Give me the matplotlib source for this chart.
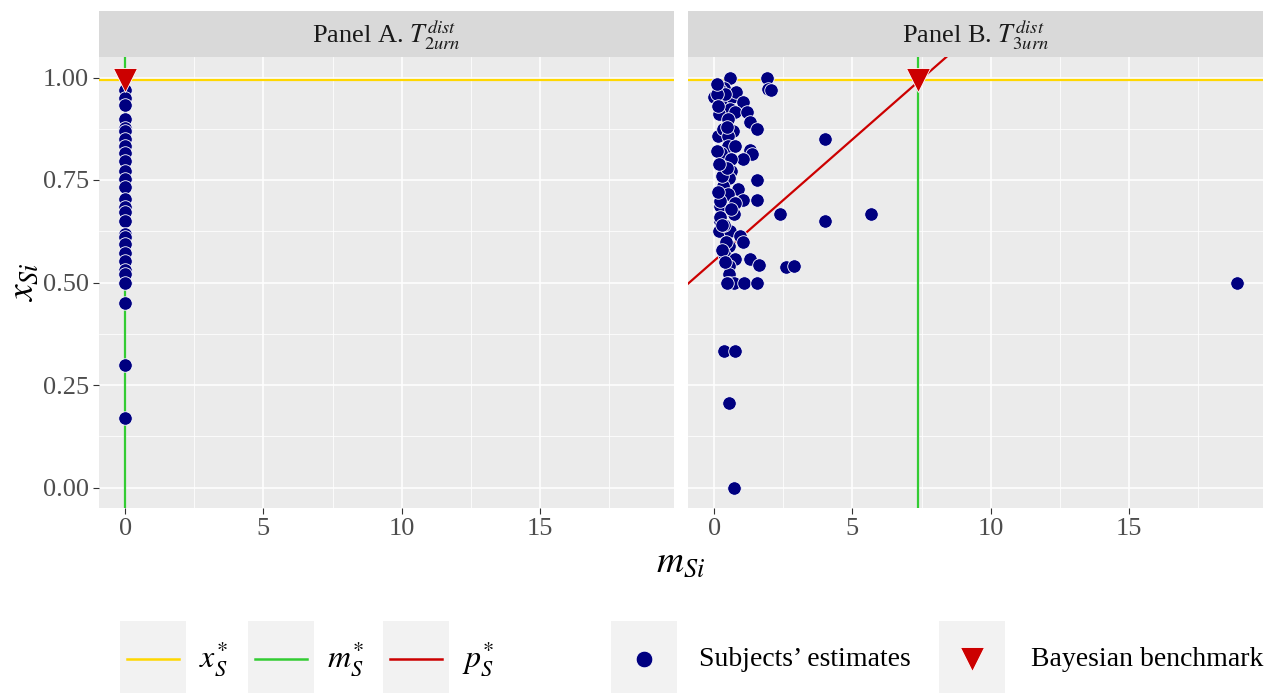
import matplotlib

matplotlib.use("Agg")
import matplotlib.pyplot as plt
from matplotlib.patches import Rectangle
from matplotlib.lines import Line2D

plt.rcParams["font.family"] = ["Liberation Serif", "DejaVu Serif"]
plt.rcParams["mathtext.fontset"] = "stix"

# data
panel_a_m = [0.0] * 27
panel_a_x = [0.97, 0.95, 0.932, 0.899, 0.878, 0.870, 0.850, 0.834, 0.817, 0.797,
             0.773, 0.752, 0.732, 0.703, 0.683, 0.671, 0.650, 0.619, 0.610, 0.593,
             0.573, 0.553, 0.530, 0.520, 0.500, 0.451, 0.300]
panel_a_m.append(0.0)
panel_a_x.append(0.170)

panel_b_m = [0.59, 1.91, 1.96, 2.07, 0.13, 0.35, 0.01, 0.25, 0.64, 0.80,
             1.04, 0.59, 0.74, 1.18, 0.19, 0.50, 1.28, 1.56, 0.13, 0.31,
             0.68, 0.50, 4.02, 0.50, 0.74, 0.25, 1.28, 1.38, 1.04, 0.62,
             0.37, 0.62, 0.55, 1.56, 0.31, 0.88, 0.50, 1.04, 1.56, 0.74,
             0.23, 2.37, 4.02, 0.71, 0.23, 0.19, 0.59, 0.92, 1.04, 0.53,
             0.37, 0.74, 1.28, 1.62, 0.55, 2.61, 2.89, 0.55, 0.55, 0.71,
             1.08, 1.56, 5.66, 18.9, 0.37, 0.74, 0.53, 0.71, 0.22, 0.40,
             0.10, 0.45, 0.30, 0.45, 0.20, 0.35, 0.60, 0.42, 0.28, 0.48,
             0.12, 0.15, 0.10, 0.18, 0.14, 0.20, 0.30, 0.40]
panel_b_x = [1.00, 1.00, 0.972, 0.970, 0.98, 0.975, 0.952, 0.94, 0.953, 0.964,
             0.94, 0.923, 0.915, 0.915, 0.911, 0.899, 0.891, 0.874, 0.858, 0.874,
             0.870, 0.858, 0.850, 0.834, 0.834, 0.817, 0.822, 0.813, 0.801, 0.801,
             0.781, 0.773, 0.755, 0.751, 0.736, 0.729, 0.716, 0.701, 0.701, 0.695,
             0.687, 0.667, 0.650, 0.667, 0.650, 0.626, 0.626, 0.614, 0.600, 0.589,
             0.569, 0.557, 0.557, 0.543, 0.540, 0.538, 0.540, 0.520, 0.500, 0.500,
             0.500, 0.500, 0.667, 0.500, 0.333, 0.333, 0.206, 0.0, 0.97, 0.96,
             0.96, 0.88, 0.76, 0.78, 0.70, 0.64, 0.68, 0.60, 0.58, 0.50,
             0.985, 0.93, 0.82, 0.79, 0.72, 0.66, 0.64, 0.55]

x_star = 0.995
m_star = [0.0, 7.38]
p_star_intercept = 0.553
p_star_slope = 0.0592
bench_x = 0.993

strip_labels = [r"Panel A. $T_{2urn}^{dist}$", r"Panel B. $T_{3urn}^{dist}$"]
x_ticks = [0, 5, 10, 15]
y_ticks = [0.0, 0.25, 0.50, 0.75, 1.00]

NAVY = "#000080"
RED = "#CC0000"
GOLD = "#FFD700"
GREEN = "#33CC33"
GRID_BG = "#EBEBEB"
STRIP_BG = "#D9D9D9"
TICK_COL = "#4D4D4D"
FS = 19

W, H = 1268, 693
fig = plt.figure(figsize=(W / 100, H / 100), dpi=100)


def fx(px):
    return px / W


def fy(py):
    return 1 - py / H


panels = [
    (panel_a_m, panel_a_x, 99, 674, False),
    (panel_b_m, panel_b_x, 688, 1263, True),
]

for idx, (ms, xs, left, right, has_p) in enumerate(panels):
    ax = fig.add_axes([fx(left), fy(508), fx(right - left), fy(57) - fy(508)])
    ax.set_facecolor(GRID_BG)
    ax.set_xlim(-0.945, 19.845)
    ax.set_ylim(-0.05, 1.05)
    ax.set_xticks(x_ticks)
    ax.set_xticks([2.5, 7.5, 12.5, 17.5], minor=True)
    ax.set_yticks(y_ticks)
    ax.set_yticks([0.125, 0.375, 0.625, 0.875], minor=True)
    ax.grid(True, which="major", color="white", linewidth=1.1)
    ax.grid(True, which="minor", color="white", linewidth=0.55)
    ax.set_axisbelow(True)
    for s in ax.spines.values():
        s.set_visible(False)
    ax.tick_params(which="minor", length=0)
    ax.tick_params(which="major", length=4, width=0.8, color="#333333",
                   labelcolor=TICK_COL, labelsize=FS, pad=3)
    ax.set_xticklabels([str(t) for t in x_ticks])
    if idx == 0:
        ax.set_yticklabels([f"{t:.2f}" for t in y_ticks])
    else:
        ax.tick_params(axis="y", which="major", left=False, labelleft=False)

    ax.axhline(x_star, color=GOLD, linewidth=1.6, zorder=2)
    ax.axvline(m_star[idx], color=GREEN, linewidth=1.6, zorder=2)
    if has_p:
        ax.axline((0, p_star_intercept), slope=p_star_slope, color=RED,
                  linewidth=1.6, zorder=2)
    ax.scatter(ms, xs, s=95, color=NAVY, edgecolor="white", linewidth=0.6, zorder=3)
    ax.plot([m_star[idx]], [bench_x], marker="v", markersize=17, color=RED,
            markeredgecolor="white", markeredgewidth=0.6, linestyle="none", zorder=4)

    # strip
    fig.patches.append(Rectangle((fx(left), fy(57)), fx(right - left), fy(11) - fy(57),
                                 transform=fig.transFigure, facecolor=STRIP_BG,
                                 edgecolor="none"))
    fig.text(fx((left + right) / 2), fy(35), strip_labels[idx], ha="center",
             va="center", fontsize=FS, color="#1A1A1A")

fig.text(fx(681), fy(563), r"$m_{Si}$", ha="center", va="center", fontsize=27)
fig.text(fx(24), fy(282), r"$x_{Si}$", ha="center", va="center", fontsize=27,
         rotation=90)

# legend
leg = fig.add_axes([0, 0, 1, 1], facecolor="none")
leg.set_xlim(0, W)
leg.set_ylim(H, 0)
leg.axis("off")
key_w, key_top, key_bot = 66, 621, 693
line_keys = [(120, GOLD, r"$x_S^{*}$"), (248, GREEN, r"$m_S^{*}$"), (383, RED, r"$p_S^{*}$")]
for kx, col, lab in line_keys:
    leg.add_patch(Rectangle((kx, key_top), key_w, key_bot - key_top,
                            facecolor="#F2F2F2", edgecolor="none"))
    leg.add_line(Line2D([kx + 7, kx + key_w - 7], [659, 659], color=col, linewidth=1.8))
    leg.text(kx + key_w + 13, 659, lab, ha="left", va="center", fontsize=23)

leg.add_patch(Rectangle((611, key_top), key_w, key_bot - key_top,
                        facecolor="#F2F2F2", edgecolor="none"))
leg.plot([611 + key_w / 2], [659], marker="o", markersize=12, color=NAVY,
         markeredgecolor="white", markeredgewidth=0.6)
leg.text(699, 660, "Subjects\u2019 estimates", ha="left", va="center", fontsize=FS + 1)

leg.add_patch(Rectangle((939, key_top), key_w, key_bot - key_top,
                        facecolor="#F2F2F2", edgecolor="none"))
leg.plot([939 + key_w / 2], [659], marker="v", markersize=17, color=RED,
         markeredgecolor="white", markeredgewidth=0.6)
leg.text(1031, 660, "Bayesian benchmark", ha="left", va="center", fontsize=FS + 1)

fig.savefig("out.png", dpi=100)
